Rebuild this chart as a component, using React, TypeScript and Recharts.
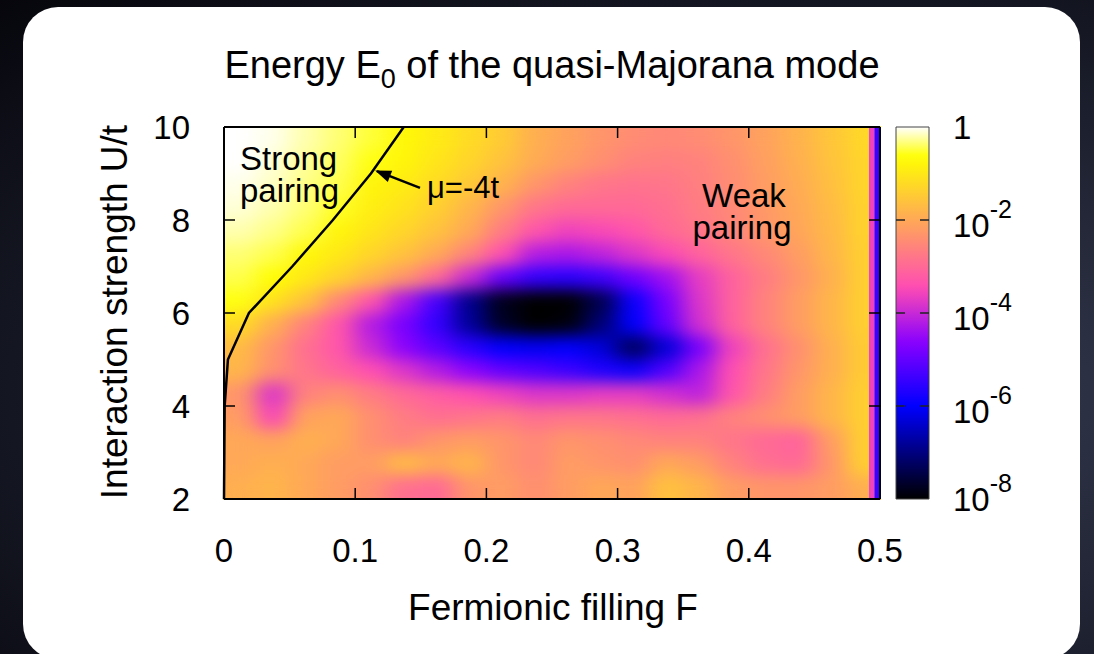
import React from "react";
import { ComposedChart, Scatter, XAxis, YAxis, ReferenceLine, ReferenceArea } from "recharts";

const W = 1094;
const H = 654;
const MARGIN = { top: 127, right: 214, bottom: 95, left: 164 };
const AXIS_X = 60;
const AXIS_Y = 60;
const PLOT_LEFT = MARGIN.left + AXIS_Y;
const PLOT_RIGHT = W - MARGIN.right;
const PLOT_W = PLOT_RIGHT - PLOT_LEFT;
const PLOT_H = H - MARGIN.top - MARGIN.bottom - AXIS_X;
const FONT = "'Liberation Sans', Arial, Helvetica, sans-serif";

// grid of log10(E0), rows = U (top to bottom), cols = filling F
const F_STEP = 0.025;
const U_STEP = 0.5;
const F_CENTERS = [0.0125, 0.0375, 0.0625, 0.0875, 0.1125, 0.1375, 0.1625, 0.1875, 0.2125, 0.2375, 0.2625, 0.2875, 0.3125, 0.3375, 0.3625, 0.3875, 0.4125, 0.4375, 0.4625, 0.4875];
const U_CENTERS = [9.75, 9.25, 8.75, 8.25, 7.75, 7.25, 6.75, 6.25, 5.75, 5.25, 4.75, 4.25, 3.75, 3.25, 2.75, 2.25];
const LOG_E0 = [
  [0, -0.05, -0.2, -0.35, -0.5, -0.75, -0.95, -1.2, -1.45, -1.9, -2.1, -2.3, -2.45, -2.5, -2.45, -2.3, -2.1, -1.85, -1.55, -1.25],
  [0, -0.1, -0.25, -0.4, -0.6, -0.8, -1.05, -1.3, -1.6, -1.95, -2.2, -2.4, -2.6, -2.65, -2.6, -2.4, -2.15, -1.9, -1.6, -1.3],
  [-0.05, -0.15, -0.3, -0.45, -0.8, -0.95, -1.2, -1.5, -1.85, -2.3, -2.6, -2.8, -2.85, -2.8, -2.65, -2.45, -2.2, -1.95, -1.65, -1.3],
  [-0.1, -0.2, -0.35, -0.55, -0.9, -1.1, -1.4, -1.8, -2.3, -2.8, -3.0, -3.0, -3.0, -2.9, -2.7, -2.5, -2.25, -2.0, -1.7, -1.35],
  [-0.2, -0.3, -0.45, -0.8, -1.05, -1.3, -1.6, -2.0, -2.7, -3.3, -3.6, -3.5, -3.3, -3.0, -2.8, -2.55, -2.3, -2.05, -1.75, -1.35],
  [-0.35, -0.45, -0.75, -1.0, -1.3, -1.6, -2.0, -2.6, -3.4, -4.2, -4.3, -4.1, -3.8, -3.5, -3.1, -2.8, -2.5, -2.2, -1.8, -1.4],
  [-0.45, -0.65, -1.0, -1.35, -1.8, -2.3, -3.0, -4.0, -5.0, -5.5, -5.6, -5.4, -4.9, -4.4, -3.7, -3.1, -2.7, -2.3, -1.9, -1.4],
  [-0.6, -1.1, -1.6, -2.5, -3.3, -4.3, -5.3, -6.9, -7.8, -8.0, -8.0, -7.4, -5.9, -4.8, -3.8, -3.1, -2.6, -2.2, -1.8, -1.4],
  [-1.2, -1.9, -2.6, -3.3, -4.2, -4.8, -5.5, -6.8, -7.7, -8.0, -7.9, -7.1, -6.0, -5.0, -3.9, -3.1, -2.6, -2.2, -1.8, -1.4],
  [-1.7, -2.3, -2.9, -3.3, -4.0, -4.6, -5.1, -5.6, -6.0, -6.1, -6.0, -6.3, -7.3, -6.3, -4.8, -3.6, -2.9, -2.4, -1.9, -1.45],
  [-1.8, -2.4, -2.8, -3.1, -3.4, -3.8, -4.2, -4.6, -5.0, -5.2, -5.4, -5.7, -5.9, -5.2, -4.3, -3.4, -2.8, -2.3, -1.9, -1.45],
  [-2.3, -3.8, -2.6, -2.4, -2.7, -3.0, -3.2, -3.4, -3.6, -3.8, -3.8, -3.7, -3.7, -3.9, -4.1, -3.3, -2.7, -2.2, -1.8, -1.4],
  [-2.2, -3.5, -2.1, -2.0, -2.4, -2.7, -2.9, -2.8, -2.7, -2.9, -2.8, -2.8, -2.9, -3.0, -2.9, -2.6, -2.4, -2.2, -1.8, -1.4],
  [-2.0, -2.1, -1.9, -2.0, -2.4, -2.6, -2.3, -2.2, -2.3, -2.5, -2.3, -2.4, -2.5, -2.6, -2.6, -2.8, -3.0, -3.1, -2.2, -1.4],
  [-2.0, -1.9, -2.0, -2.2, -2.2, -1.7, -2.0, -1.8, -2.3, -2.5, -2.2, -2.3, -2.4, -2.0, -2.2, -2.6, -2.9, -3.0, -2.3, -1.4],
  [-1.9, -1.8, -2.0, -2.2, -2.4, -2.9, -3.0, -2.3, -2.2, -2.4, -2.2, -2.0, -2.1, -1.6, -1.8, -2.2, -2.3, -2.3, -2.2, -1.9],
];
// thin strip right at half filling
const EDGE_F = [0.4937, 0.4979];
const EDGE_STEP = 0.0042;
const EDGE_LOG = [-3.6, -5.4];

// mu = -4t boundary
const MU_F = [0.137, 0.112, 0.083, 0.052, 0.019, 0.003, 0.0005, 0];
const MU_U = [10, 9, 8, 7, 6, 5, 4, 2];
const ARROW_F = [0.1494, 0.1166];
const ARROW_U = [8.69, 9.05];

const X_TICKS = [0, 0.1, 0.2, 0.3, 0.4, 0.5];
const Y_TICKS = [2, 4, 6, 8, 10];
const CB_TICKS = [-8, -6, -4, -2, 0];
const CB_MID = [{ x: 0.5, y: -4 }];

function palette(t: number) {
  const c = (v: number) => Math.round(255 * Math.min(1, Math.max(0, v)));
  const r = t / 0.32 - 0.78125;
  const g = 2 * t - 0.84;
  const b = t < 0.25 ? 4 * t : t < 0.42 ? 1 : t < 0.92 ? -2 * t + 1.84 : t / 0.08 - 11.5;
  return `rgb(${c(r)},${c(g)},${c(b)})`;
}
const colorOf = (logE: number) => palette((logE + 8) / 8);

const heatData = U_CENTERS.flatMap((u, i) => F_CENTERS.map((f, j) => ({ f, u, v: LOG_E0[i][j] })));
const edgeData = EDGE_F.map((f, i) => ({ f, u: 6, v: EDGE_LOG[i] }));
const muData = MU_F.map((f, i) => ({ f, u: MU_U[i] }));
const arrowData = ARROW_F.map((f, i) => ({ f, u: ARROW_U[i] }));

const CELL_W = (PLOT_W * F_STEP) / 0.5;
const CELL_H = (PLOT_H * U_STEP) / 8;
const EDGE_W = (PLOT_W * EDGE_STEP) / 0.5;

const HeatCell = (p: any) => (
  <rect x={p.cx - CELL_W / 2 - 0.5} y={p.cy - CELL_H / 2 - 0.5} width={CELL_W + 1} height={CELL_H + 1} fill={colorOf(p.payload.v)} />
);
const EdgeCell = (p: any) => (
  <rect x={p.cx - EDGE_W / 2} y={MARGIN.top} width={EDGE_W + 0.3} height={PLOT_H} fill={colorOf(p.payload.v)} />
);
const NoDot = () => <g />;
const ArrowHead = (p: any) =>
  p.index === 1 ? <polygon points="2,0 -14,-6 -14,6" fill="#000" transform={`translate(${p.cx},${p.cy}) rotate(201.7)`} /> : <g />;

const XTick = ({ x, y, payload }: any) => (
  <g>
    <line x1={x} x2={x} y1={y} y2={y - 11} stroke="#000" strokeWidth={1.5} />
    <line x1={x} x2={x} y1={MARGIN.top} y2={MARGIN.top + 11} stroke="#000" strokeWidth={1.5} />
    <text x={x} y={y + 63} textAnchor="middle" fontSize={33} fontFamily={FONT} fill="#000">{payload.value}</text>
  </g>
);
const YTick = ({ x, y, payload }: any) => (
  <g>
    <line x1={x} x2={x + 11} y1={y} y2={y} stroke="#000" strokeWidth={1.5} />
    <line x1={PLOT_RIGHT} x2={PLOT_RIGHT - 11} y1={y} y2={y} stroke="#000" strokeWidth={1.5} />
    <text x={x - 34} y={y + 12} textAnchor="end" fontSize={33} fontFamily={FONT} fill="#000">{payload.value}</text>
  </g>
);
const CbTick = ({ x, y, payload }: any) => {
  const v = payload.value;
  const inner = v > -8 && v < 0;
  return (
    <g>
      {inner && <line x1={x - 9} x2={x} y1={y} y2={y} stroke="#222" strokeWidth={1.5} />}
      {inner && <line x1={x - 33} x2={x - 24} y1={y} y2={y} stroke="#222" strokeWidth={1.5} />}
      <text x={x + 24} y={y + (inner ? 17 : 12)} fontSize={33} fontFamily={FONT} fill="#000">
        {v === 0 ? "1" : <>10<tspan dy={-19} fontSize={25}>{v}</tspan></>}
      </text>
    </g>
  );
};

const GRAD_STOPS = Array.from({ length: 41 }, (_, i) => i / 40);

export default function App() {
  return (
    <div style={{ position: "fixed", left: 0, top: 0, width: W, height: H, overflow: "hidden", background: "radial-gradient(ellipse at 78% 60%, #343a4f 0%, #1b1e2c 55%, #06060c 100%)" }}>
      <style>{`.heat-layer { filter: url(#heatBlur); }`}</style>
      <svg width={0} height={0} style={{ position: "absolute" }}>
        <defs>
          <filter id="heatBlur" x="0" y="0" width="1" height="1" colorInterpolationFilters="sRGB">
            <feGaussianBlur stdDeviation="11 8" edgeMode="duplicate" />
            <feComponentTransfer>
              <feFuncA type="table" tableValues="1 1" />
            </feComponentTransfer>
          </filter>
          <linearGradient id="cbGrad" x1="0" y1="1" x2="0" y2="0">
            {GRAD_STOPS.map((t) => <stop key={t} offset={t} stopColor={palette(t)} />)}
          </linearGradient>
        </defs>
      </svg>
      <div style={{ position: "absolute", left: 23, top: 7, width: 1057, height: 652, borderRadius: 35, background: "#fff" }} />

      <div style={{ position: "absolute", left: 0, top: 0 }}>
        <ComposedChart width={W} height={H} margin={MARGIN}>
          <Scatter className="heat-layer" data={heatData} shape={HeatCell} isAnimationActive={false} zIndex={50} />
          <Scatter data={edgeData} shape={EdgeCell} isAnimationActive={false} zIndex={50} />
          <Scatter data={muData} shape={NoDot} line={{ stroke: "#000", strokeWidth: 2.5 }} lineType="joint" isAnimationActive={false} zIndex={50} />
          <Scatter data={arrowData} shape={ArrowHead} line={{ stroke: "#000", strokeWidth: 2.5 }} lineType="joint" isAnimationActive={false} zIndex={50} />
          <ReferenceLine y={10} stroke="#000" strokeWidth={2} />
          <ReferenceLine x={0.5} stroke="#000" strokeWidth={2} />
          <XAxis dataKey="f" type="number" domain={[0, 0.5]} ticks={X_TICKS} interval={0} height={AXIS_X} tickSize={0} tickMargin={0} tick={XTick} axisLine={{ stroke: "#000", strokeWidth: 2 }} />
          <YAxis dataKey="u" type="number" domain={[2, 10]} ticks={Y_TICKS} interval={0} width={AXIS_Y} tickSize={0} tickMargin={0} tick={YTick} axisLine={{ stroke: "#000", strokeWidth: 2 }} />
        </ComposedChart>
      </div>

      <div style={{ position: "absolute", left: 0, top: 0 }}>
        <ComposedChart width={W} height={H} margin={{ top: 127, right: 85, bottom: 155, left: 896 }}>
          <XAxis dataKey="x" type="number" domain={[0, 1]} hide />
          <YAxis dataKey="y" orientation="right" type="number" domain={[-8, 0]} ticks={CB_TICKS} interval={0} width={80} tickSize={0} tickMargin={0} tick={CbTick} axisLine={false} />
          <Scatter data={CB_MID} shape={NoDot} isAnimationActive={false} />
          <ReferenceArea x1={0} x2={1} y1={-8} y2={0} fill="url(#cbGrad)" fillOpacity={1} stroke="#444" strokeWidth={1} />
        </ComposedChart>
      </div>

      <svg width={W} height={H} style={{ position: "absolute", left: 0, top: 0, pointerEvents: "none" }} fontFamily={FONT} fill="#000">
        <text x={552} y={78} textAnchor="middle" fontSize={38}>
          Energy E<tspan fontSize={27} dy={10}>0</tspan><tspan dy={-10}> of the quasi-Majorana mode</tspan>
        </text>
        <text x={127} y={312} textAnchor="middle" fontSize={37} transform="rotate(-90 127 312)">
          Interaction strength U/t
        </text>
        <text x={553} y={620} textAnchor="middle" fontSize={37}>Fermionic filling F</text>
        <text x={240} y={170} fontSize={33}>Strong</text>
        <text x={240} y={202} fontSize={33}>pairing</text>
        <text x={427} y={198} fontSize={31}>μ=-4t</text>
        <text x={744} y={207} textAnchor="middle" fontSize={33}>Weak</text>
        <text x={742} y={239} textAnchor="middle" fontSize={33}>pairing</text>
      </svg>
    </div>
  );
}
